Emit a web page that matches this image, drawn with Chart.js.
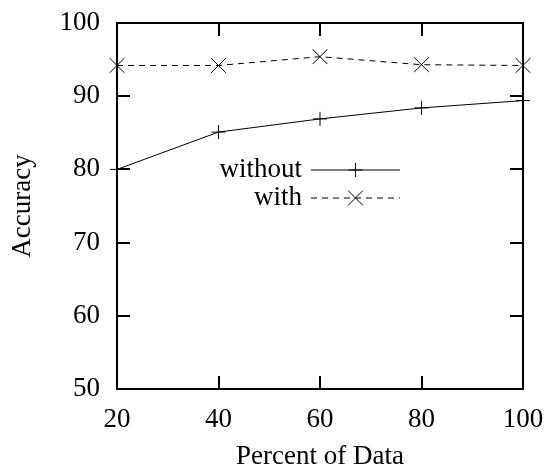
<!DOCTYPE html>
<html><head><meta charset="utf-8">
<script src="https://cdn.jsdelivr.net/npm/chart.js@4"></script>
<style>html,body{margin:0;padding:0;background:#fff}canvas{display:block}</style>
</head><body>
<canvas id="c" width="545" height="468"></canvas>
<script>
const percents = [20, 40, 60, 80, 100];
const withoutValues = [80.0, 85.1, 86.9, 88.4, 89.4];
const withValues = [94.2, 94.2, 95.4, 94.3, 94.2];
const seriesNames = ['without', 'with'];
const xLabel = 'Percent of Data';
const yLabel = 'Accuracy';

const FAMILY = '"Liberation Serif", "Times New Roman", serif';
const FSIZE = 27;

function drawMarker(ctx, style, r, x, y) {
  ctx.beginPath();
  if (style === 'cross') {
    ctx.moveTo(x - r, y); ctx.lineTo(x + r, y);
    ctx.moveTo(x, y - r); ctx.lineTo(x, y + r);
  } else {
    const o = r * Math.SQRT1_2;
    ctx.moveTo(x - o, y - o); ctx.lineTo(x + o, y + o);
    ctx.moveTo(x - o, y + o); ctx.lineTo(x + o, y - o);
  }
  ctx.stroke();
}

const framePlugin = {
  id: 'frame',
  afterDraw(chart) {
    const ctx = chart.ctx;
    const a = chart.chartArea;
    const xs = chart.scales.x, ys = chart.scales.y;
    const tl = 13;
    ctx.save();
    ctx.strokeStyle = '#000';
    ctx.lineWidth = 2;
    ctx.setLineDash([]);
    ctx.beginPath();
    xs.ticks.forEach(t => {
      const px = Math.round(xs.getPixelForValue(t.value));
      ctx.moveTo(px, a.bottom); ctx.lineTo(px, a.bottom - tl);
      ctx.moveTo(px, a.top); ctx.lineTo(px, a.top + tl);
    });
    ys.ticks.forEach(t => {
      const py = Math.round(ys.getPixelForValue(t.value));
      ctx.moveTo(a.left, py); ctx.lineTo(a.left + tl, py);
      ctx.moveTo(a.right, py); ctx.lineTo(a.right - tl, py);
    });
    ctx.stroke();
    ctx.strokeRect(a.left, a.top, a.right - a.left, a.bottom - a.top);

    // legend (gnuplot style: text, then sample line with marker)
    const textRight = a.left + 185;
    const lineX1 = a.left + 194, lineX2 = a.left + 283;
    chart.data.datasets.forEach((ds, i) => {
      const y = a.top + 147 + i * 28;
      ctx.fillStyle = '#000';
      ctx.font = FSIZE + 'px ' + FAMILY;
      ctx.textAlign = 'right';
      ctx.textBaseline = 'middle';
      ctx.fillText(ds.label, textRight, y);
      ctx.lineWidth = 1;
      ctx.strokeStyle = ds.borderColor;
      ctx.setLineDash(ds.borderDash || []);
      ctx.beginPath(); ctx.moveTo(lineX1, y); ctx.lineTo(lineX2, y); ctx.stroke();
      ctx.setLineDash([]);
      drawMarker(ctx, ds.pointStyle, ds.pointRadius, (lineX1 + lineX2) / 2, y);
    });
    ctx.restore();
  }
};

new Chart(document.getElementById('c'), {
  type: 'line',
  data: {
    datasets: [
      {
        label: seriesNames[0],
        data: percents.map((p, i) => ({x: p, y: withoutValues[i]})),
        borderColor: '#000', borderWidth: 1, pointStyle: 'cross', pointRadius: 7,
        pointBorderColor: '#000', pointBorderWidth: 1, pointBackgroundColor: '#000',
        tension: 0, fill: false, clip: false
      },
      {
        label: seriesNames[1],
        data: percents.map((p, i) => ({x: p, y: withValues[i]})),
        borderColor: '#000', borderWidth: 1, borderDash: [6, 5], pointStyle: 'crossRot', pointRadius: 10.5,
        pointBorderColor: '#000', pointBorderWidth: 1, pointBackgroundColor: '#000',
        tension: 0, fill: false, clip: false
      }
    ]
  },
  options: {
    responsive: false,
    animation: false,
    events: [],
    layout: { padding: { top: 23, right: 22, left: 0, bottom: 0 } },
    plugins: { legend: { display: false }, tooltip: { enabled: false } },
    scales: {
      x: {
        type: 'linear', min: 20, max: 100,
        ticks: { stepSize: 20, color: '#000', padding: 15, maxRotation: 0, font: { family: FAMILY, size: FSIZE } },
        grid: { display: false, drawTicks: false },
        border: { display: false },
        title: { display: true, text: xLabel, color: '#000', padding: 0, font: { family: FAMILY, size: FSIZE, lineHeight: 0.85 } },
        afterFit(s) { s.height = 79; s.paddingLeft = 0; s.paddingRight = 0; }
      },
      y: {
        type: 'linear', min: 50, max: 100,
        ticks: { stepSize: 10, color: '#000', padding: 17, font: { family: FAMILY, size: FSIZE } },
        grid: { display: false, drawTicks: false },
        border: { display: false },
        title: { display: true, text: yLabel, color: '#000', padding: { top: 9, bottom: 0 }, font: { family: FAMILY, size: FSIZE, lineHeight: 1 } },
        afterFit(s) { s.width = 117; s.paddingTop = 0; s.paddingBottom = 0; }
      }
    }
  },
  plugins: [framePlugin]
});
</script>
</body></html>
